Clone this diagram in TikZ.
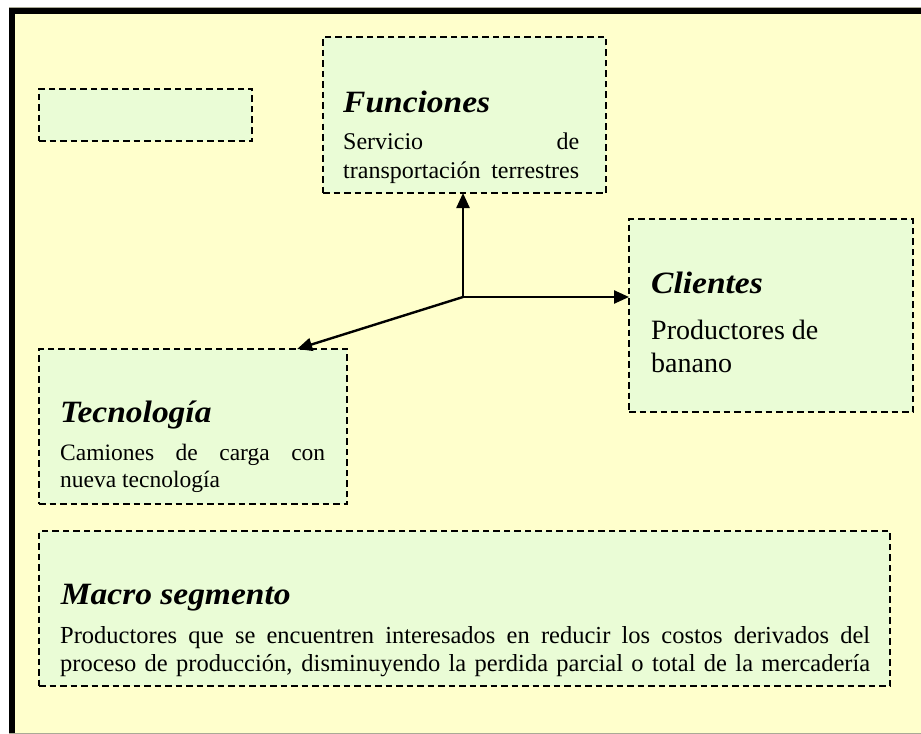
\documentclass[tikz,border=0pt]{standalone}
\usepackage{fontspec}
\setmainfont{Liberation Serif}
\newfontfamily\ttlfont[FakeStretch=1.08]{Liberation Serif}
\usetikzlibrary{arrows.meta,calc}
\definecolor{bgyellow}{RGB}{255,255,204}
\definecolor{boxgreen}{RGB}{234,252,214}
\definecolor{edgegray}{RGB}{170,170,150}
\tikzset{
  dbox/.style={draw=black, fill=boxgreen, line width=2bp, dash pattern=on 6.5bp off 4bp,
    anchor=north west, inner sep=0pt, outer sep=0pt},
  ttl/.style={anchor=base west, inner sep=0pt, font=\ttlfont\bfseries\itshape\fontsize{31bp}{36bp}\selectfont},
  body/.style={anchor=base west, inner sep=0pt},
  conn/.style={line width=2.4bp, -{Triangle[length=15bp,width=13bp]}}
}
\begin{document}
\begin{tikzpicture}[x=1bp,y=-1bp]
\useasboundingbox (0,0) rectangle (921,734);
\fill[white] (0,0) rectangle (921,734);
\fill[edgegray] (9,7) rectangle (921,734);
\fill[black] (9,8) rectangle (921,732.5);
\fill[bgyellow] (15,14) rectangle (921,732.5);

% boxes
\node[dbox, minimum width=213bp, minimum height=52bp] (ebox) at (39,89) {};
\node[dbox, minimum width=283bp, minimum height=156bp] (fbox) at (323,37) {};
\node[dbox, minimum width=284bp, minimum height=193bp] (cbox) at (629,219) {};
\node[dbox, minimum width=308bp, minimum height=155bp] (tbox) at (39,349) {};
\node[dbox, minimum width=851bp, minimum height=155bp] (mbox) at (39,531) {};

% texts
\node[ttl] (fun) at (343,112.3) {Funciones};
\node[body] (funb) at (343,150) {\parbox[t]{236bp}{\fontsize{24bp}{29bp}\selectfont\parfillskip=0pt Servicio de\linebreak transportación terrestres}};

\node[ttl] (cli) at (651,293.3) {Clientes};
\node[body] (clib) at (651,339) {\parbox[t]{250bp}{\fontsize{28bp}{33bp}\selectfont\raggedright Productores de\\ banano}};

\node[ttl] (tec) at (60,422.7) {Tecnología};
\node[body] (tecb) at (60,460.7) {\parbox[t]{265bp}{\fontsize{23.5bp}{26.5bp}\selectfont Camiones de carga con\linebreak nueva tecnología\par}};

\node[ttl] (mac) at (60.7,604.3) {Macro segmento};
\node[body] (macb) at (60,643) {\parbox[t]{810bp}{\fontsize{24.5bp}{28.7bp}\selectfont\parfillskip=0pt Productores que se encuentren interesados en reducir los costos derivados del\linebreak proceso de producción, disminuyendo la perdida parcial o total de la mercadería}};

% connectors
\coordinate (o) at (463,297);
\coordinate (tc) at ($(tbox.north west)!0.838!(tbox.north east)$);
\draw[conn] (o) -- (o |- fbox.south);
\draw[conn] (o) -- (o -| cbox.west);
\draw[conn] (o) -- (tc);
\end{tikzpicture}
\end{document}
